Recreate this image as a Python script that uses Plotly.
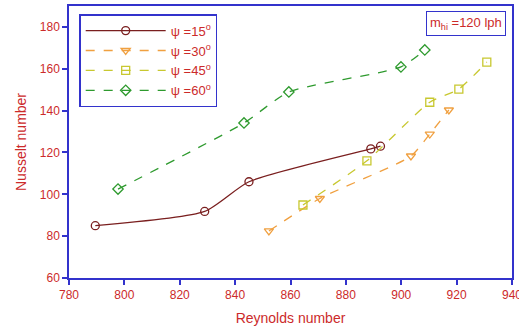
import plotly.graph_objects as go

re15 = [789.5, 829, 845, 889, 892.5]
nu15 = [85, 91.8, 106, 121.7, 123]
re30 = [852.2, 870.6, 903.5, 910.3, 917.2]
nu30 = [82.5, 98, 118.3, 128.8, 140.3]
re45 = [864.5, 887.6, 910.3, 920.8, 930.9]
nu45 = [94.9, 116, 144, 150.3, 163.2]
re60 = [797.7, 843.2, 859.4, 899.9, 908.5]
nu60 = [102.5, 134.1, 148.9, 160.9, 169]

red = "#CC2A2A"
blue = "#3333CC"

fig = go.Figure()
series = [
    (re15, nu15, "ψ =15<sup>o</sup>", "#7A1F1F", "solid", "circle-open"),
    (re30, nu30, "ψ =30<sup>o</sup>", "#F0A040", "dash", "triangle-down-open"),
    (re45, nu45, "ψ =45<sup>o</sup>", "#C8C830", "dash", "square-open"),
    (re60, nu60, "ψ =60<sup>o</sup>", "#2E9A2E", "dash", "diamond-open"),
]
for x, y, name, col, dash, sym in series:
    fig.add_trace(go.Scatter(
        x=x, y=y, name=name, mode="lines+markers",
        line=dict(color=col, width=1.3, dash=dash, shape="spline", smoothing=0.6),
        marker=dict(symbol=sym, size=8, color=col, line=dict(width=1.3, color=col)),
    ))

axis_common = dict(
    showgrid=False, zeroline=False, showline=True, linecolor=blue, linewidth=1.5,
    mirror=True, ticks="outside", tickcolor=blue, ticklen=5, tickwidth=1.5,
    tickfont=dict(family="Liberation Sans, Arial", size=12, color=red),
    automargin=False,
)
fig.update_xaxes(range=[780, 940], dtick=20, ticklabeloverflow="allow", **axis_common,
                 title=dict(text="Reynolds number", standoff=12,
                            font=dict(family="Liberation Sans, Arial", size=14, color=red)))
fig.update_yaxes(range=[60, 190], tickvals=[60, 80, 100, 120, 140, 160, 180], **axis_common,
                 title=dict(text="Nusselt number", standoff=10,
                            font=dict(family="Liberation Sans, Arial", size=14, color=red)))

fig.update_layout(
    width=519, height=327,
    margin=dict(l=69, r=7, t=6, b=49),
    plot_bgcolor="white", paper_bgcolor="white",
    font=dict(family="Liberation Sans, Arial", color=red),
    legend=dict(x=0.023, y=0.97, xanchor="left", yanchor="top",
                bordercolor=blue, borderwidth=1.5, bgcolor="white",
                font=dict(size=13, color=red), tracegroupgap=0, itemwidth=80),
    annotations=[dict(
        text="m<sub>hi</sub> =120 lph", xref="paper", yref="paper",
        x=0.986, y=0.982, xanchor="right", yanchor="top", showarrow=False,
        bordercolor=blue, borderwidth=1, borderpad=3,
        font=dict(size=13, color=red), bgcolor="white")],
)
fig.write_html("out.html")
